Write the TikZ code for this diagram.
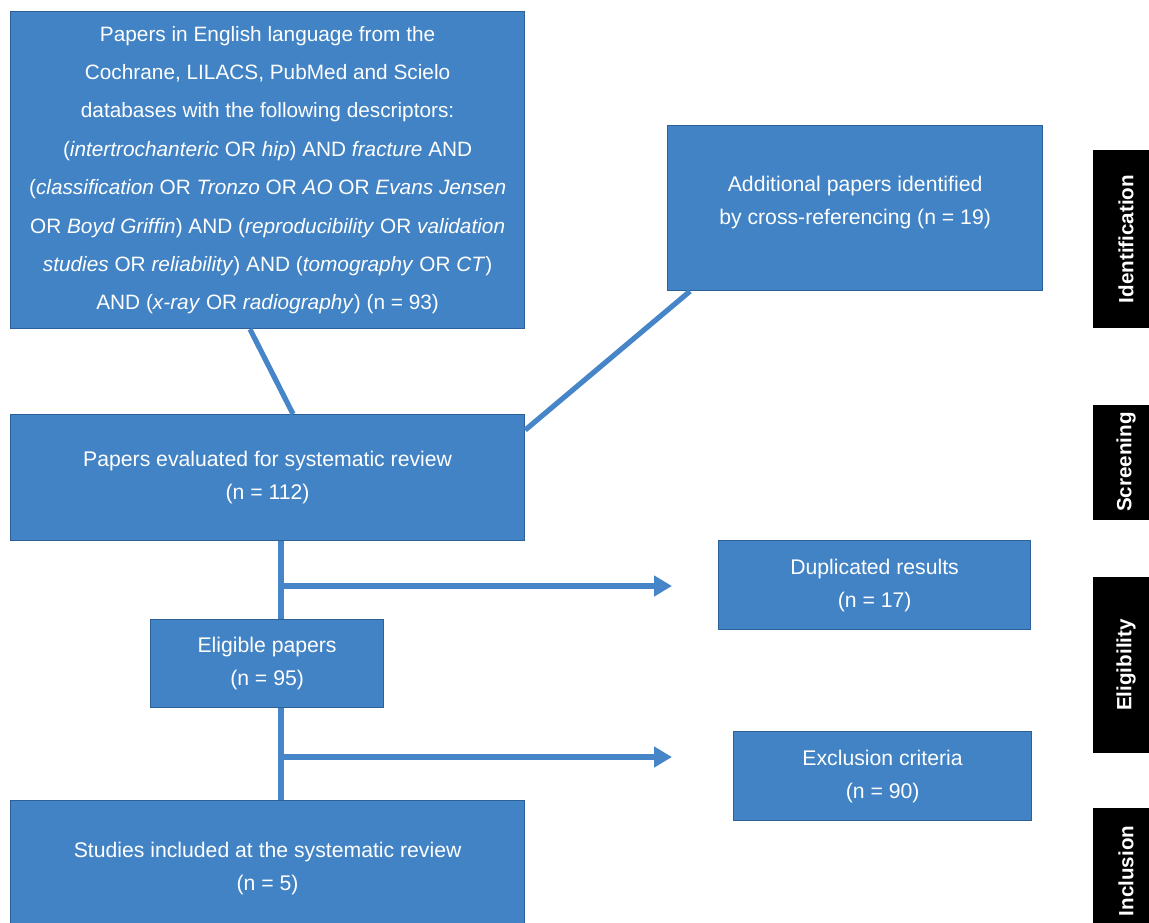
\documentclass[tikz,border=0pt]{standalone}
\usepackage{fontspec}
\setmainfont{Liberation Sans}
\usetikzlibrary{arrows.meta}
\definecolor{boxblue}{RGB}{65,131,197}
\definecolor{edgeblue}{RGB}{44,96,152}
\definecolor{lineblue}{RGB}{70,134,200}
\begin{document}
\begin{tikzpicture}[x=0.5pt,y=-0.5pt,
    box/.style={draw=edgeblue,line width=0.6pt,fill=boxblue,text=white,align=center,
        anchor=north west,inner sep=0pt,font=\fontsize{10.6}{16.5}\selectfont},
    phase/.style={fill=black,text=white,rotate=90,inner sep=0pt,minimum height=33.5pt,
        font=\bfseries\fontsize{10.3}{12}\selectfont},
    flow/.style={draw=lineblue,line width=2.6pt},
    tip/.style={-{Triangle[length=9pt,width=10pt]}}]
    \useasboundingbox (0,0) rectangle (1149,922);

    \node[box,minimum width=257pt,minimum height=158.5pt,font=\fontsize{10.4}{19.2}\selectfont] (src) at (10,11)
        {Papers in English language from the\\
         Cochrane, LILACS, PubMed and Scielo\\
         databases with the following descriptors:\\
         (\textit{intertrochanteric} OR \textit{hip}) AND \textit{fracture} AND\\
         (\textit{classification} OR \textit{Tronzo} OR \textit{AO} OR \textit{Evans Jensen}\\
         OR \textit{Boyd Griffin}) AND (\textit{reproducibility} OR \textit{validation}\\
         \textit{studies} OR \textit{reliability}) AND (\textit{tomography} OR \textit{CT})\\
         AND (\textit{x-ray} OR \textit{radiography}) (n = 93)};
    \node[box,minimum width=187.5pt,minimum height=82.5pt] (add) at (667,125)
        {Additional papers identified\\ by cross-referencing (n = 19)\rule[-8pt]{0pt}{0pt}};
    \node[box,minimum width=257pt,minimum height=63pt] (eval) at (10,414)
        {Papers evaluated for systematic review\\ (n = 112)};
    \node[box,minimum width=156pt,minimum height=44.5pt] (dup) at (718,540)
        {Duplicated results\\ (n = 17)};
    \node[box,minimum width=116.5pt,minimum height=44pt] (elig) at (150,619)
        {Eligible papers\\ (n = 95)};
    \node[box,minimum width=149pt,minimum height=44.5pt] (excl) at (733,731)
        {Exclusion criteria\\ (n = 90)};
    \node[box,minimum width=257pt,minimum height=68pt] (incl) at (10,800)
        {Studies included at the systematic review\\ (n = 5)};

    \node[phase,minimum width=89pt] (ident) at (1126,239) {Identification};
    \node[phase,minimum width=57.5pt] (screen) at (1126,462) {Screening};
    \node[phase,minimum width=88pt] (eligph) at (1126,665) {Eligibility};
    \node[phase,minimum width=63.5pt] (inclph) at (1126,871) {Inclusion};

    \coordinate (spine) at (281,0);
    \coordinate (tipA) at (672,586);
    \coordinate (tipB) at (672,757);
    \draw[flow] ([xshift=120pt]src.south west) -- ([xshift=141.5pt]eval.north west);
    \draw[flow] ([xshift=11.5pt]add.south west) -- ([yshift=-8pt]eval.north east);
    \draw[flow] (spine |- eval.south) -- (spine |- elig.north);
    \draw[flow] (spine |- elig.south) -- (spine |- incl.north);
    \draw[flow,tip] (spine |- tipA) -- (tipA);
    \draw[flow,tip] (spine |- tipB) -- (tipB);
\end{tikzpicture}
\end{document}
